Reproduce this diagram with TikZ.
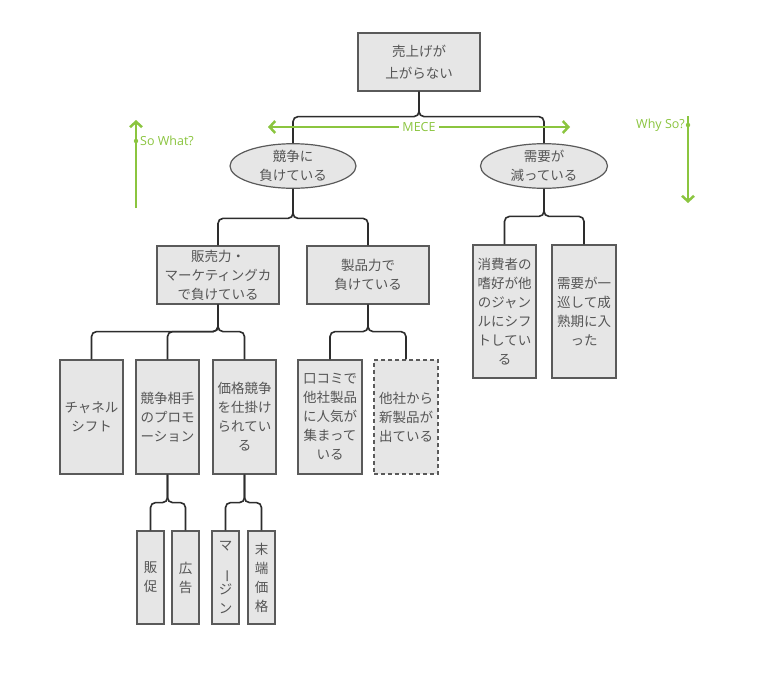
\documentclass[tikz,border=0pt]{standalone}
\usepackage{fontspec}
\setmainfont{Open Sans}
\newfontfamily\jp{Noto Sans CJK JP}
\usetikzlibrary{shapes.geometric,arrows.meta}
\definecolor{grn}{RGB}{139,197,63}
\definecolor{txt}{RGB}{85,85,85}
\definecolor{boxfill}{RGB}{230,230,230}
\definecolor{boxline}{RGB}{90,90,90}
\definecolor{conncol}{RGB}{45,45,45}
\begin{document}
\begin{tikzpicture}[x=1pt,y=-1pt,
  box/.style={draw=boxline, fill=boxfill, line width=1.2pt, inner sep=0pt, align=center, text=txt, font=\jp\fontsize{13.5}{19}\selectfont},
  ell/.style={box, ellipse},
  conn/.style={draw=conncol, line width=1.6pt, rounded corners=5pt},
  tip/.tip={Straight Barb[length=5.5pt,width=12pt]},
  garrow/.style={draw=grn, line width=2.5pt, -tip},
  glabel/.style={text=grn, font=\fontsize{12.5}{14}\selectfont, inner sep=0pt}]
\useasboundingbox (0,0) rectangle (768,675);
\fill[white] (0,0) rectangle (768,675);

% level 0
\node[box, minimum width=122pt, minimum height=58pt, font=\jp\fontsize{13.5}{22}\selectfont] (root) at (419,62) {売上げが\\上がらない};
% level 1
\node[ell, minimum width=126pt, minimum height=43pt] (eL) at (293,166) {競争に\\負けている};
\node[ell, minimum width=127pt, minimum height=43pt] (eR) at (544,166) {需要が\\減っている};
% level 2
\node[box, minimum width=122pt, minimum height=58pt] (hanbai) at (218,275) {販売力・\\マーケティングカ\\で負けている};
\node[box, minimum width=122pt, minimum height=58pt] (seihin) at (368,275) {製品力で\\負けている};
\node[box, minimum width=63pt, minimum height=133pt] (shohi) at (504.5,311.5) {消費者の\\嗜好が他\\のジャン\\ルにシフ\\トしてい\\る};
\node[box, minimum width=64pt, minimum height=133pt] (junkan) at (584,311.5) {需要が一\\巡して成\\熟期に入\\った};
% level 3
\node[box, minimum width=63pt, minimum height=114pt] (channel) at (91.5,417) {チャネル\\シフト};
\node[box, minimum width=63pt, minimum height=114pt] (kyoso) at (167.5,417) {競争相手\\のプロモ\\ーション};
\node[box, minimum width=63pt, minimum height=114pt] (kakaku) at (244.5,417) {価格競争\\を仕掛け\\られてい\\る};
\node[box, minimum width=64pt, minimum height=114pt] (kuchi) at (330,417) {口コミで\\他社製品\\に人気が\\集まって\\いる};
\node[box, dash pattern=on 4pt off 3pt, minimum width=64pt, minimum height=114pt] (tasha) at (406,417) {他社から\\新製品が\\出ている};
% level 4
\node[box, minimum width=27pt, minimum height=93pt] (hansoku) at (150.5,577.5) {販\\促};
\node[box, minimum width=27pt, minimum height=93pt] (kokoku) at (185.5,577.5) {広\\告};
\node[box, minimum width=27pt, minimum height=93pt] (margin) at (225.5,577.5) {マ\\\rotatebox{-90}{ー}\\ジ\\ン};
\node[box, minimum width=27pt, minimum height=93pt] (mattan) at (261.5,577.5) {末\\端\\価\\格};

% connectors
\draw[conn] (root.south) -- ++(0,25) -| (eL.north);
\draw[conn] (root.south) -- ++(0,25) -| (eR.north);
\draw[conn] (eL.south) -- ++(0,29.5) -| (hanbai.north);
\draw[conn] (eL.south) -- ++(0,29.5) -| (seihin.north);
\draw[conn] (eR.south) -- ++(0,27.5) -| (shohi.north);
\draw[conn] (eR.south) -- ++(0,27.5) -| (junkan.north);
\draw[conn] (hanbai.south) -- ++(0,27) -| (channel.north);
\draw[conn] (hanbai.south) -- ++(0,27) -| (kyoso.north);
\draw[conn] (hanbai.south) -- ++(0,27) -| (kakaku.north);
\draw[conn] (seihin.south) -- ++(0,27) -| (kuchi.north);
\draw[conn] (seihin.south) -- ++(0,27) -| (tasha.north);
\draw[conn] (kyoso.south) -- ++(0,28) -| (hansoku.north);
\draw[conn] (kyoso.south) -- ++(0,28) -| (kokoku.north);
\draw[conn] (kakaku.south) -- ++(0,28) -| (margin.north);
\draw[conn] (kakaku.south) -- ++(0,28) -| (mattan.north);

% green annotations
\coordinate (mL) at (268,127);
\coordinate (mR) at (570,127);
\draw[garrow, tip-tip] (mL) -- (mR) node[midway, fill=white, glabel, inner xsep=3pt, inner ysep=1pt] (mece) {MECE};

\coordinate (swB) at (136,208);
\coordinate (swT) at (136,120);
\draw[garrow] (swB) -- (swT);
\fill[grn] (136,141) circle (2.2pt);
\node[glabel, anchor=west] (sw) at (140,141) {So What?};

\coordinate (wsT) at (688,116);
\coordinate (wsB) at (688,203);
\draw[garrow] (wsT) -- (wsB);
\fill[grn] (688,125) circle (2.2pt);
\node[glabel, anchor=east] (ws) at (685,125) {Why So?};
\end{tikzpicture}
\end{document}
